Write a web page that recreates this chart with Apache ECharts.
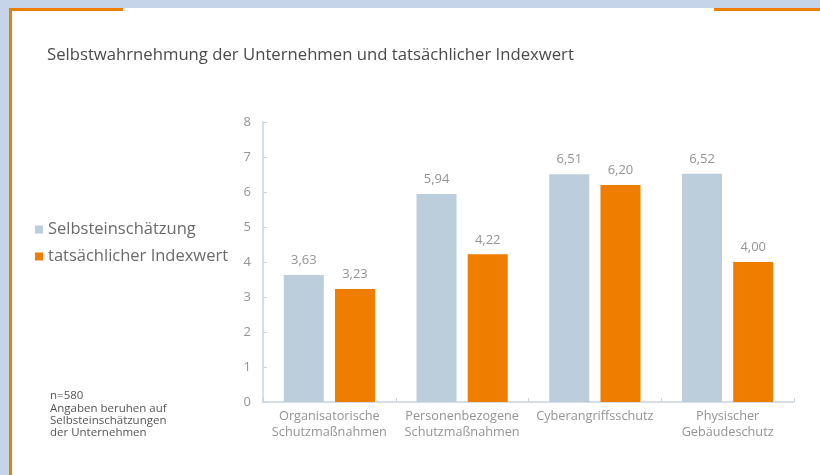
<!DOCTYPE html>
<html>
<head>
<meta charset="utf-8">
<script src="https://cdn.jsdelivr.net/npm/echarts@6/dist/echarts.min.js"></script>
<style>
  html, body { margin: 0; padding: 0; background: #c5d4e9; }
  #chart { width: 820px; height: 475px; }
</style>
</head>
<body>
<div id="chart"></div>
<script>
// Kategorien der Schutzbereiche
const categories = [
  'Organisatorische\nSchutzmaßnahmen',
  'Personenbezogene\nSchutzmaßnahmen',
  'Cyberangriffsschutz',
  'Physischer\nGebäudeschutz'
];
// Selbsteinschätzung der Unternehmen
const selfAssessment = [3.63, 5.94, 6.51, 6.52];
// Tatsächlicher Indexwert
const actualIndex = [3.23, 4.22, 6.20, 4.00];
// Y-Achse
const yTicks = [0, 1, 2, 3, 4, 5, 6, 7, 8];

const FONT = '"Open Sans", "DejaVu Sans", sans-serif';
const BLUE = '#bccddb';
const ORANGE = '#ef7d00';
const LABEL = '#949494';

const fmt = v => v.toFixed(2).replace('.', ',');

const chart = echarts.init(document.getElementById('chart'));
chart.setOption({
  backgroundColor: '#c5d4e9',
  animation: false,
  textStyle: { fontFamily: FONT },
  graphic: [
    // weiße Fläche
    { type: 'rect', z: -10, shape: { x: 9, y: 8, width: 811, height: 467 }, style: { fill: '#ffffff' } },
    // orangefarbene Randlinien
    { type: 'rect', z: -5, shape: { x: 9, y: 8, width: 3, height: 467 }, style: { fill: ORANGE } },
    { type: 'rect', z: -5, shape: { x: 9, y: 8, width: 114, height: 3 }, style: { fill: ORANGE } },
    { type: 'rect', z: -5, shape: { x: 714, y: 8, width: 106, height: 3 }, style: { fill: ORANGE } },
    // Titel
    { type: 'text', left: 47, top: 47, style: {
        text: 'Selbstwahrnehmung der Unternehmen und tatsächlicher Indexwert',
        fill: '#4a4a4a', font: '16.7px ' + FONT } },
    // Fußnote
    { type: 'text', left: 50, top: 390, style: {
        text: 'n=580\nAngaben beruhen auf\nSelbsteinschätzungen\nder Unternehmen',
        fill: '#555555', font: '11.5px ' + FONT, lineHeight: 12.3 } }
  ],
  legend: {
    orient: 'vertical',
    left: 30,
    top: 216,
    itemWidth: 8,
    itemHeight: 8,
    itemGap: 10,
    icon: 'rect',
    textStyle: { fontSize: 16.5, color: '#6a6a6a', fontFamily: FONT },
    data: ['Selbsteinschätzung', 'tatsächlicher Indexwert']
  },
  grid: { left: 263, right: 26, top: 122, bottom: 73 },
  xAxis: {
    type: 'category',
    data: categories,
    axisLine: { lineStyle: { color: '#c8d3de', width: 1.5 } },
    axisTick: { show: true, inside: true, length: 4, lineStyle: { color: '#c8d3de' } },
    axisLabel: { interval: 0, color: LABEL, fontSize: 12.7, lineHeight: 16, margin: 6, fontFamily: FONT }
  },
  yAxis: {
    type: 'value',
    min: 0,
    max: 8,
    interval: 1,
    axisLine: { show: true, lineStyle: { color: '#c8d3de', width: 1.5 } },
    axisTick: { show: true, inside: true, length: 4, lineStyle: { color: '#c8d3de' } },
    splitLine: { show: false },
    axisLabel: {
      color: LABEL, fontSize: 13, margin: 12, fontFamily: FONT,
      formatter: v => yTicks.includes(v) ? String(v) : ''
    }
  },
  series: [
    {
      name: 'Selbsteinschätzung',
      type: 'bar',
      data: selfAssessment,
      barWidth: 40,
      barGap: '28%',
      itemStyle: { color: BLUE },
      label: { show: true, position: 'top', distance: 8, color: LABEL, fontSize: 13, fontFamily: FONT,
               formatter: p => fmt(p.value) }
    },
    {
      name: 'tatsächlicher Indexwert',
      type: 'bar',
      data: actualIndex,
      barWidth: 40,
      itemStyle: { color: ORANGE },
      label: { show: true, position: 'top', distance: 8, color: LABEL, fontSize: 13, fontFamily: FONT,
               formatter: p => fmt(p.value) }
    }
  ]
});
</script>
</body>
</html>
